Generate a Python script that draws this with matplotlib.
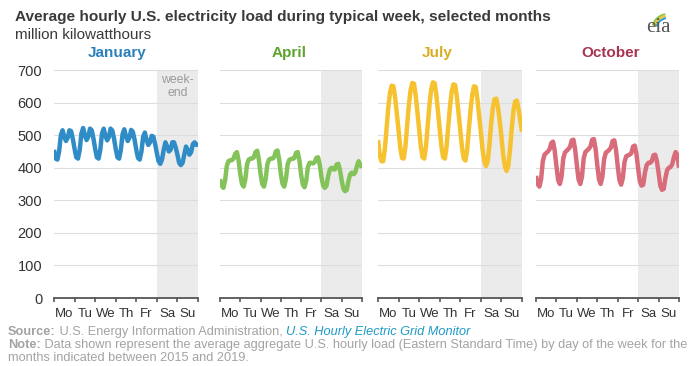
import numpy as np
import matplotlib.pyplot as plt
from matplotlib.patches import Arc

plt.rcParams['font.family'] = ['Liberation Sans', 'DejaVu Sans']

# hourly load every 2 hours, Monday 0h through Sunday 24h
hours = np.arange(0, 169, 2)
days = ['Mo', 'Tu', 'We', 'Th', 'Fr', 'Sa', 'Su']
months = ['January', 'April', 'July', 'October']

january = [455, 428, 425, 450, 500, 515, 495, 482, 492, 515, 512, 488,
           458, 432, 428, 455, 505, 522, 500, 485, 495, 520, 515, 490,
           458, 432, 428, 455, 505, 520, 498, 484, 494, 520, 514, 490,
           458, 432, 428, 455, 503, 518, 496, 482, 492, 516, 510, 486,
           455, 430, 425, 450, 495, 508, 485, 470, 478, 498, 495, 472,
           445, 420, 412, 425, 455, 478, 465, 450, 455, 478, 478, 462,
           440, 415, 408, 415, 440, 465, 455, 440, 448, 472, 478, 470,
           472]
april = [365, 345, 338, 360, 405, 420, 423, 423, 428, 443, 448, 422,
         380, 350, 342, 365, 410, 425, 428, 428, 432, 448, 452, 425,
         380, 350, 342, 365, 410, 425, 428, 428, 432, 450, 453, 426,
         380, 350, 342, 365, 410, 424, 427, 427, 430, 446, 448, 422,
         378, 348, 340, 360, 402, 415, 415, 413, 417, 430, 432, 410,
         372, 345, 338, 345, 375, 395, 400, 395, 395, 410, 412, 392,
         360, 335, 328, 332, 360, 380, 385, 380, 385, 405, 420, 410,
         400]
july = [485, 440, 420, 420, 458, 520, 585, 630, 652, 650, 615, 565,
        515, 462, 430, 428, 465, 530, 592, 638, 660, 658, 622, 570,
        518, 465, 432, 428, 465, 530, 592, 640, 662, 660, 625, 572,
        518, 465, 432, 428, 465, 528, 588, 635, 656, 654, 618, 568,
        515, 462, 428, 422, 455, 518, 578, 625, 650, 648, 610, 560,
        510, 455, 420, 405, 420, 470, 535, 585, 610, 612, 585, 545,
        495, 440, 405, 390, 405, 455, 520, 575, 603, 606, 580, 545,
        510]
october = [375, 350, 342, 365, 420, 440, 445, 450, 457, 476, 480, 452,
           405, 362, 350, 372, 428, 447, 452, 457, 464, 484, 486, 456,
           408, 364, 350, 372, 428, 448, 453, 458, 465, 486, 488, 458,
           408, 364, 350, 372, 426, 446, 450, 455, 462, 482, 484, 454,
           405, 362, 348, 368, 418, 435, 438, 440, 445, 465, 468, 442,
           398, 358, 345, 348, 385, 408, 415, 415, 420, 438, 440, 420,
           385, 345, 332, 335, 368, 392, 400, 402, 410, 432, 448, 440,
           400]
series = [january, april, july, october]

title_colors = ['#2b80bb', '#5ea32f', '#d9ac22', '#a8354f']
line_colors = ['#2f8cc7', '#83c35a', '#f6c22f', '#d96c7b']

fig = plt.figure(figsize=(7, 3.66), dpi=100)
W, H = 700, 366
lefts = [54, 220, 378, 536]
widths = [144, 142, 144, 143]
title_x = [117, 289, 437, 611]
top, bottom = 70, 298

for i in range(4):
    ax = fig.add_axes([lefts[i] / W, 1 - bottom / H, widths[i] / W, (bottom - top) / H])
    ax.axvspan(120, 168, color='#ebebeb', zorder=0, lw=0)
    ax.plot(hours, series[i], color=line_colors[i], lw=3.2, solid_joinstyle='round',
            solid_capstyle='butt', zorder=3)
    ax.set_xlim(0, 168)
    ax.set_ylim(0, 700)
    ax.set_yticks(range(0, 701, 100))
    ax.grid(axis='y', color='#dddddd', lw=0.8, zorder=1)
    ax.set_axisbelow(True)
    for s in ['top', 'right', 'left']:
        ax.spines[s].set_visible(False)
    ax.spines['bottom'].set_color('#555555')
    ax.spines['bottom'].set_linewidth(1.3)
    ax.spines['bottom'].set_zorder(4)
    ax.set_xticks(range(0, 169, 24))
    ax.set_xticklabels([])
    ax.set_xticks(np.arange(12, 168, 24), minor=True)
    ax.set_xticklabels(days, minor=True, fontsize=9.5, color='#333333')
    ax.tick_params(axis='x', which='major', length=3, width=1.2, color='#555555', direction='out')
    ax.tick_params(axis='x', which='minor', length=0, pad=7)
    if i == 0:
        ax.tick_params(axis='y', length=0, pad=8.5, labelsize=10.5, labelcolor='#333333')
    else:
        ax.tick_params(axis='y', length=0, labelleft=False)
    fig.text(title_x[i] / W, 1 - 53 / H, months[i], ha='center', va='center',
             fontsize=11, fontweight='bold', color=title_colors[i])
    if i == 0:
        ax.text(144, 650, 'week-\nend', ha='center', va='center', fontsize=8.8,
                color='#9a9a9a', linespacing=1.15)

fig.text(15 / W, 1 - 17.5 / H, 'Average hourly U.S. electricity load during typical week, selected months',
         fontsize=11.1, fontweight='bold', color='#3a3a3a', va='center')
fig.text(15 / W, 1 - 35 / H, 'million kilowatthours', fontsize=11, color='#3a3a3a', va='center')

# eia logo
fig.text(658 / W, 1 - 27 / H, 'eia', family='Liberation Serif', fontsize=15, color='#555555',
         ha='center', va='center')
for r, c in [(16, '#8dc63f'), (14, '#f2c12e'), (12, '#2a9fd6')]:
    fig.add_artist(Arc((668 / W, 1 - 30 / H), 2 * r / W, 2 * r / H, theta1=95, theta2=150,
                       color=c, lw=1.4, transform=fig.transFigure))

grey = '#a3a3a3'
fs = 9.2
s1 = fig.text(8 / W, 1 - 332 / H, 'Source:', fontsize=fs, fontweight='bold', color=grey, va='center')
ax0 = fig.axes[0]
s2 = ax0.annotate(' U.S. Energy Information Administration, ', xy=(1, 0), xycoords=s1,
                  va='bottom', fontsize=fs, color=grey)
ax0.annotate('U.S. Hourly Electric Grid Monitor', xy=(1, 0), xycoords=s2,
             va='bottom', fontsize=fs, color='#1e9ac5', style='italic')
n1 = fig.text(8 / W, 1 - 345 / H, 'Note:', fontsize=fs, fontweight='bold', color=grey, va='center')
ax0.annotate(' Data shown represent the average aggregate U.S. hourly load (Eastern Standard Time) '
             'by day of the week for the', xy=(1, 0), xycoords=n1, va='bottom', fontsize=fs, color=grey)
fig.text(8 / W, 1 - 358 / H, 'months indicated between 2015 and 2019.', fontsize=fs, color=grey,
         va='center')

fig.savefig('out.png', dpi=100, facecolor='white')
